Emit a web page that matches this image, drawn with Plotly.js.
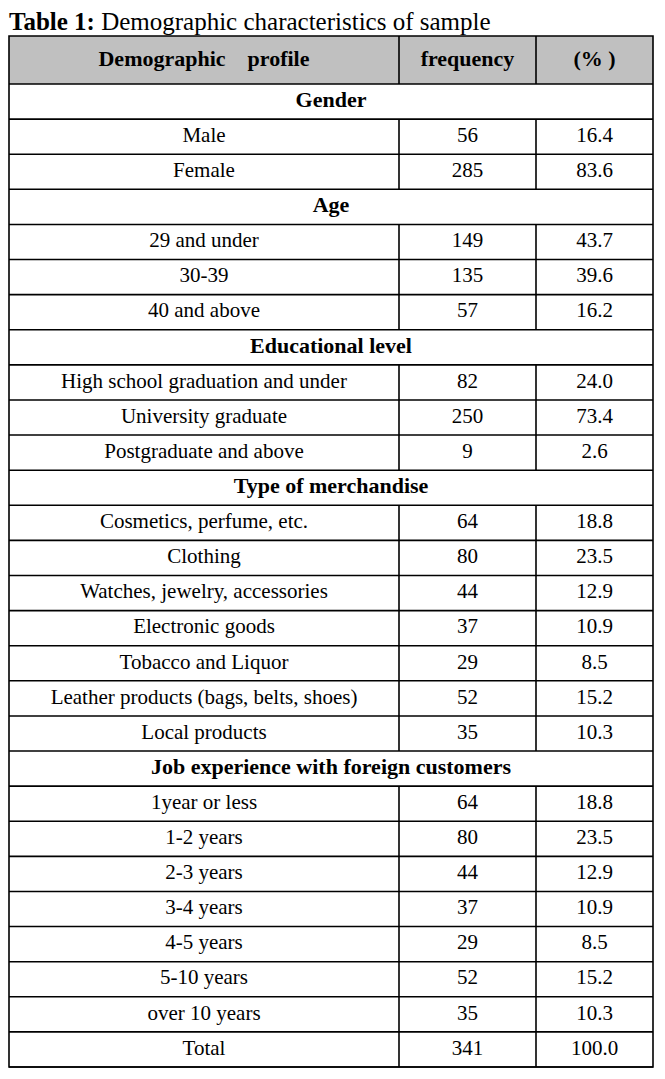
<!DOCTYPE html>
<html>
<head>
<meta charset="utf-8">
<script src="https://cdn.plot.ly/plotly-3.0.1.min.js"></script>
<style>
  html, body { margin: 0; padding: 0; background: #fff; }
  #table1 { width: 665px; height: 1079px; }
</style>
</head>
<body>
<div id="table1"></div>
<script>
// table content (section rows have no frequency / percent)
const headers = ['Demographic\u00a0\u00a0\u00a0\u00a0profile', 'frequency', '(%\u00a0)'];
const rowLabels = [
    'Gender', 'Male', 'Female',
    'Age', '29 and under', '30-39', '40 and above',
    'Educational level', 'High school graduation and under', 'University graduate', 'Postgraduate and above',
    'Type of merchandise', 'Cosmetics, perfume, etc.', 'Clothing', 'Watches, jewelry, accessories',
    'Electronic goods', 'Tobacco and Liquor', 'Leather products (bags, belts, shoes)', 'Local products',
    'Job experience with foreign customers', '1year or less', '1-2 years', '2-3 years', '3-4 years',
    '4-5 years', '5-10 years', 'over 10 years', 'Total'
];
const frequency = [
    null, 56, 285,
    null, 149, 135, 57,
    null, 82, 250, 9,
    null, 64, 80, 44, 37, 29, 52, 35,
    null, 64, 80, 44, 37, 29, 52, 35,
    341
];
const percent = [
    null, 16.4, 83.6,
    null, 43.7, 39.6, 16.2,
    null, 24.0, 73.4, 2.6,
    null, 18.8, 23.5, 12.9, 10.9, 8.5, 15.2, 10.3,
    null, 18.8, 23.5, 12.9, 10.9, 8.5, 15.2, 10.3,
    100.0
];

// geometry (axes are in page pixels)
const W = 665, H = 1079;
const colEdges = [9, 399, 536, 653];
const headTop = 36, headBottom = 84;
const rowH = (1067 - headBottom) / rowLabels.length;
const colMid = c => (colEdges[c] + colEdges[c + 1]) / 2;
const rowMid = i => headBottom + (i + 0.5) * rowH;
const rowTop = i => headBottom + i * rowH;

const serif = '"Liberation Serif", "Times New Roman", serif';
const font = {family: serif, size: 21, color: '#000'};
const boldFont = {family: serif, size: 22, color: '#000'};

const isSection = rowLabels.map((_, i) => frequency[i] === null);
const itemIdx = rowLabels.map((_, i) => i).filter(i => !isSection[i]);
const secIdx = rowLabels.map((_, i) => i).filter(i => isSection[i]);

const traces = [
    { // header
        type: 'scatter', mode: 'text',
        x: [0, 1, 2].map(colMid), y: headers.map(() => (headTop + headBottom) / 2),
        text: headers.map(h => '<b>' + h + '</b>'),
        textfont: boldFont, textposition: 'middle center', hoverinfo: 'skip'
    },
    { // section titles
        type: 'scatter', mode: 'text',
        x: secIdx.map(() => (colEdges[0] + colEdges[3]) / 2), y: secIdx.map(rowMid),
        text: secIdx.map(i => '<b>' + rowLabels[i] + '</b>'),
        textfont: boldFont, textposition: 'middle center', hoverinfo: 'skip'
    },
    { // item labels
        type: 'scatter', mode: 'text',
        x: itemIdx.map(() => colMid(0)), y: itemIdx.map(rowMid),
        text: itemIdx.map(i => rowLabels[i]),
        textfont: font, textposition: 'middle center', hoverinfo: 'skip'
    },
    { // frequency
        type: 'scatter', mode: 'text',
        x: itemIdx.map(() => colMid(1)), y: itemIdx.map(rowMid),
        text: itemIdx.map(i => String(frequency[i])),
        textfont: font, textposition: 'middle center', hoverinfo: 'skip'
    },
    { // percent
        type: 'scatter', mode: 'text',
        x: itemIdx.map(() => colMid(2)), y: itemIdx.map(rowMid),
        text: itemIdx.map(i => percent[i].toFixed(1)),
        textfont: font, textposition: 'middle center', hoverinfo: 'skip'
    }
];

const line = {color: '#000', width: 1.6};
const shapes = [];
// grey header band
shapes.push({type: 'rect', xref: 'x', yref: 'y', x0: colEdges[0], x1: colEdges[3], y0: headTop, y1: headBottom,
    fillcolor: '#c0c0c0', line: {width: 0}, layer: 'below'});
// horizontal rules
for (let i = 0; i <= rowLabels.length; i++) {
    shapes.push({type: 'line', x0: colEdges[0], x1: colEdges[3], y0: rowTop(i), y1: rowTop(i), line: line});
}
// column separators on header and item rows
shapes.push({type: 'line', x0: colEdges[1], x1: colEdges[1], y0: headTop, y1: headBottom, line: line});
shapes.push({type: 'line', x0: colEdges[2], x1: colEdges[2], y0: headTop, y1: headBottom, line: line});
itemIdx.forEach(i => {
    [1, 2].forEach(c => shapes.push({type: 'line', x0: colEdges[c], x1: colEdges[c],
        y0: rowTop(i), y1: rowTop(i + 1), line: line}));
});
// outer border
shapes.push({type: 'rect', x0: colEdges[0], x1: colEdges[3], y0: headTop, y1: rowTop(rowLabels.length),
    line: line, fillcolor: 'rgba(0,0,0,0)'});

const layout = {
    width: W, height: H,
    margin: {l: 0, r: 0, t: 0, b: 0},
    paper_bgcolor: '#fff', plot_bgcolor: '#fff',
    showlegend: false,
    title: {
        text: '<b>Table 1:</b> Demographic characteristics of sample',
        font: {family: serif, size: 25, color: '#000'},
        x: 9 / W, xanchor: 'left', xref: 'paper',
        y: 1 - 21 / H, yanchor: 'middle', yref: 'container'
    },
    xaxis: {range: [0, W], visible: false, fixedrange: true},
    yaxis: {range: [H, 0], visible: false, fixedrange: true},
    shapes: shapes
};

Plotly.newPlot('table1', traces, layout, {displayModeBar: false, staticPlot: true});
</script>
</body>
</html>
